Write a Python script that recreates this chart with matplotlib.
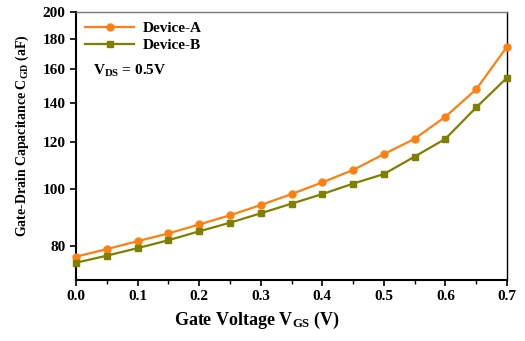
import matplotlib
matplotlib.use("Agg")
from matplotlib import pyplot as plt
from matplotlib.ticker import FixedLocator, FixedFormatter, NullLocator, MultipleLocator

# gate voltage sweep (V)
vgs = [0.0, 0.05, 0.1, 0.15, 0.2, 0.25, 0.3, 0.35, 0.4, 0.45, 0.5, 0.55, 0.6, 0.65, 0.7]

# gate-drain capacitance (aF)
cgd_device_a = [76.7, 79.0, 81.5, 84.0, 87.0, 90.2, 93.9, 98.0, 102.6, 107.7, 114.6, 121.7, 132.7, 147.7, 174.6]
cgd_device_b = [74.9, 77.0, 79.3, 81.8, 84.7, 87.6, 90.9, 94.4, 98.0, 102.1, 106.0, 113.5, 121.7, 137.6, 154.6]

y_ticks = [80, 100, 120, 140, 160, 180, 200]
x_ticks = [0.0, 0.1, 0.2, 0.3, 0.4, 0.5, 0.6, 0.7]

plt.rcParams['font.family'] = ['Liberation Serif', 'DejaVu Serif']
plt.rcParams['font.weight'] = 'bold'
plt.rcParams['mathtext.fontset'] = 'custom'
plt.rcParams['mathtext.rm'] = 'Liberation Serif:bold'
plt.rcParams['mathtext.bf'] = 'Liberation Serif:bold'
plt.rcParams['mathtext.it'] = 'Liberation Serif:bold'

fig = plt.figure(figsize=(5.25, 3.41), dpi=100)
ax = fig.add_axes([0.1448, 0.1789, 0.8209, 0.7859])

ax.plot(vgs, cgd_device_a, color='#FF8010', marker='o', markersize=5, linewidth=1.6,
        label='Device-A', clip_on=False, zorder=3)
ax.plot(vgs, cgd_device_b, color='#808000', marker='s', markersize=4.8, linewidth=1.6,
        label='Device-B', clip_on=False, zorder=3)

ax.set_yscale('log')
ax.set_ylim(70, 200)
ax.set_xlim(0, 0.7)
ax.yaxis.set_major_locator(FixedLocator(y_ticks))
ax.yaxis.set_major_formatter(FixedFormatter([str(t) for t in y_ticks]))
ax.yaxis.set_minor_locator(NullLocator())
ax.xaxis.set_major_locator(FixedLocator(x_ticks))
ax.xaxis.set_major_formatter(FixedFormatter([f"{t:.1f}" for t in x_ticks]))
ax.xaxis.set_minor_locator(MultipleLocator(0.05))

ax.tick_params(axis='both', which='major', direction='out', length=4, width=1.2,
               labelsize=11)
ax.tick_params(axis='x', which='minor', direction='out', length=3, width=1.0)
for lab in ax.get_xticklabels() + ax.get_yticklabels():
    lab.set_fontweight('bold')

ax.spines['left'].set_linewidth(1.5)
ax.spines['bottom'].set_linewidth(1.5)
ax.spines['right'].set_linewidth(1.0)
ax.spines['top'].set_linewidth(1.0)
ax.spines['top'].set_color('#777777')

# axis titles placed in figure pixels
fig.text(257 / 525, 1 - 320 / 341, r'Gate Voltage V$_{GS}$ (V)', fontsize=13,
         fontweight='bold', ha='center', va='center')
fig.text(22 / 525, 1 - 136 / 341, r'Gate-Drain Capacitance C$_{GD}$ (aF)', fontsize=10,
         fontweight='bold', ha='center', va='center', rotation=90)

ax.text(0.04, 0.78, r'V$_{DS}$ = 0.5V', transform=ax.transAxes, fontsize=11,
        fontweight='bold', va='center', ha='left')

leg = ax.legend(loc='upper left', frameon=False, handlelength=3.2,
                handletextpad=0.6, borderaxespad=0.2, labelspacing=0.25,
                prop={'weight': 'bold', 'size': 11})

plt.savefig('out.png', dpi=100)
